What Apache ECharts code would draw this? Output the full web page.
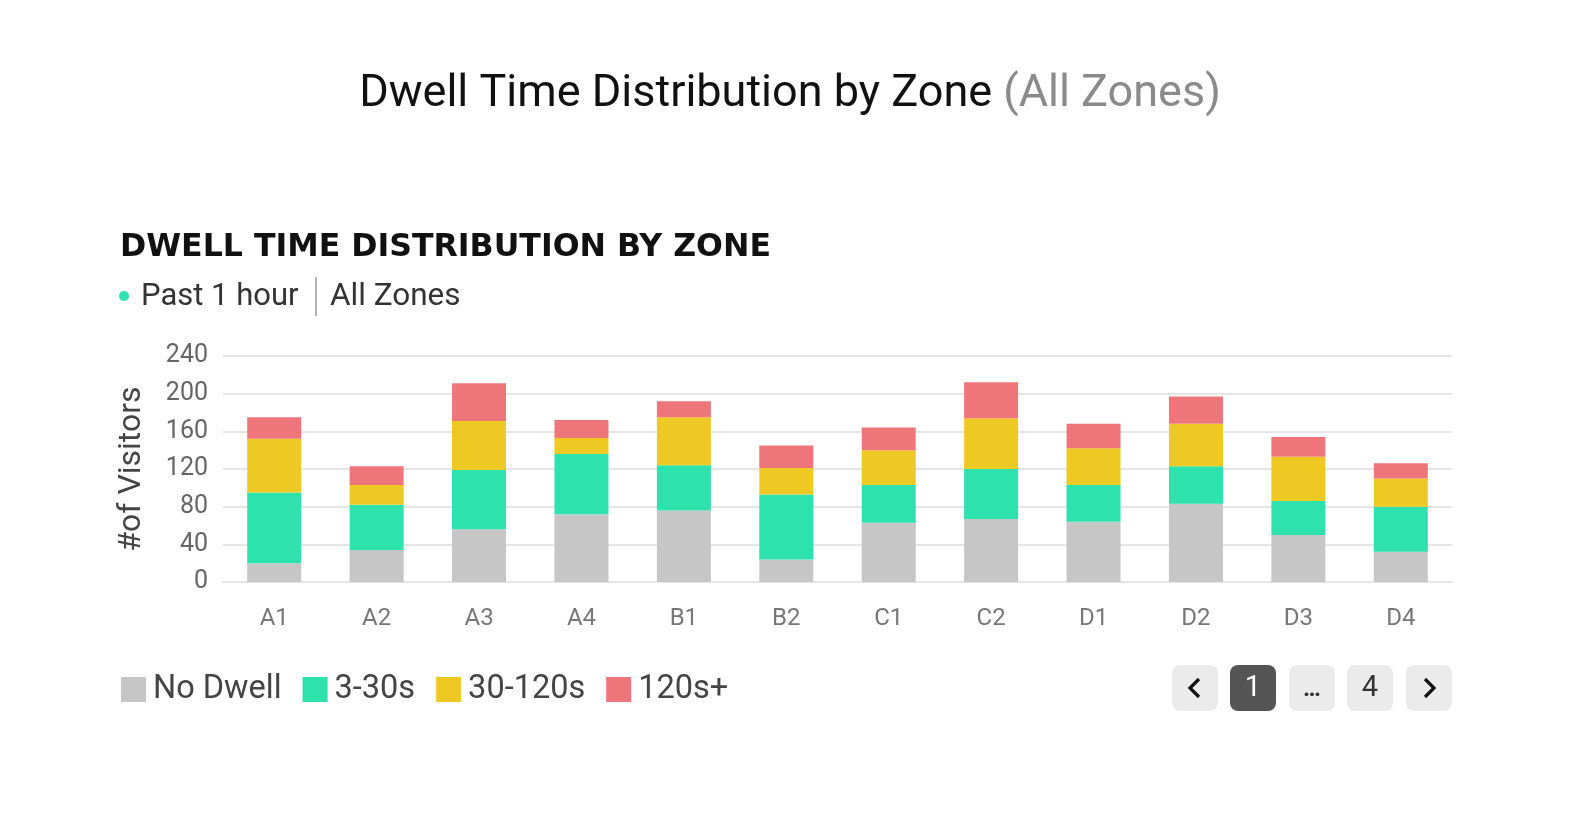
<!DOCTYPE html>
<html>
<head>
<meta charset="utf-8">
<script src="https://cdn.jsdelivr.net/npm/echarts@6/dist/echarts.min.js"></script>
<style>
  html, body { margin: 0; padding: 0; background: #fff; }
  #chart { width: 1580px; height: 826px; }
</style>
</head>
<body>
<div id="chart"></div>
<script>
// zones and dwell buckets
const zones = ["A1", "A2", "A3", "A4", "B1", "B2", "C1", "C2", "D1", "D2", "D3", "D4"];
const noDwell = [20, 34, 56, 72, 76, 24, 63, 67, 64, 83, 50, 32];
const dwell3to30 = [75, 48, 63, 64, 48, 69, 40, 53, 39, 40, 36, 48];
const dwell30to120 = [57, 21, 52, 17, 51, 28, 37, 54, 39, 45, 47, 30];
const dwell120plus = [23, 20, 40, 19, 17, 24, 24, 38, 26, 29, 21, 16];
const yTicks = [0, 40, 80, 120, 160, 200, 240];

const seriesNames = ["No Dwell", "3-30s", "30-120s", "120s+"];
const colors = ["#c6c6c6", "#2de2ad", "#efc923", "#ee767a"];
const pages = ["1", "…", "4"];

const FONT = "Roboto";

const chart = echarts.init(document.getElementById("chart"));

// pagination buttons (decoration only)
const btnW = 46, btnH = 46, btnY = 665;
const btnX = [1172, 1230, 1289, 1347, 1406];
const pager = [];
btnX.forEach((x, i) => {
  const active = i === 1;
  pager.push({
    type: "rect",
    shape: { x: x, y: btnY, width: btnW, height: btnH, r: 8 },
    style: { fill: active ? "#555555" : "#ebebeb" },
  });
  if (i > 0 && i < 4) {
    pager.push({
      type: "text",
      x: x + btnW / 2,
      y: btnY + btnH / 2 + (i === 2 ? 2 : 1),
      style: {
        text: pages[i - 1],
        fontFamily: FONT,
        fontWeight: i === 2 ? "bold" : "normal",
        fontSize: i === 2 ? 24 : 29,
        fill: active ? "#ffffff" : "#333333",
        align: "center",
        verticalAlign: "middle",
      },
    });
  }
});
// chevrons
const cy = btnY + btnH / 2;
pager.push({
  type: "polyline",
  shape: { points: [[1199, cy - 9], [1190, cy], [1199, cy + 9]] },
  style: { stroke: "#111", lineWidth: 3.2, fill: null },
});
pager.push({
  type: "polyline",
  shape: { points: [[1425, cy - 9], [1434, cy], [1425, cy + 9]] },
  style: { stroke: "#111", lineWidth: 3.2, fill: null },
});

const option = {
  backgroundColor: "#ffffff",
  animation: false,
  title: {
    text: "{a|Dwell Time Distribution by Zone }{b|(All Zones)}",
    left: "center",
    top: 67,
    textStyle: {
      fontWeight: "normal",
      rich: {
        a: { fontFamily: FONT, fontSize: 45, fontWeight: "normal", color: "#111111" },
        b: { fontFamily: FONT, fontSize: 45, fontWeight: "normal", color: "#8a8a8a" },
      },
    },
  },
  graphic: [
    {
      type: "text",
      x: 120,
      y: 248,
      style: {
        text: "DWELL TIME DISTRIBUTION BY ZONE",
        fontFamily: "DejaVu Sans",
        fontWeight: "bold",
        fontSize: 31.6,
        fill: "#111111",
        verticalAlign: "middle",
      },
    },
    {
      type: "circle",
      shape: { cx: 124, cy: 296, r: 5 },
      style: { fill: "#2de2ad" },
    },
    {
      type: "text",
      x: 141,
      y: 297,
      style: {
        text: "Past 1 hour",
        fontFamily: FONT,
        fontSize: 31,
        fill: "#333333",
        verticalAlign: "middle",
      },
    },
    {
      type: "line",
      shape: { x1: 316, y1: 277, x2: 316, y2: 316 },
      style: { stroke: "#999999", lineWidth: 1.5 },
    },
    {
      type: "text",
      x: 330,
      y: 297,
      style: {
        text: "All Zones",
        fontFamily: FONT,
        fontSize: 31.5,
        fill: "#333333",
        verticalAlign: "middle",
      },
    },
    ...pager,
  ],
  legend: {
    left: 116,
    top: 668,
    icon: "rect",
    itemWidth: 25,
    itemHeight: 25,
    itemGap: 21,
    textStyle: {
      fontFamily: FONT,
      fontSize: 32.5,
      color: "#444444",
      padding: [0, 0, 0, 2],
    },
    data: seriesNames,
  },
  grid: {
    left: 223,
    right: 128,
    top: 356,
    bottom: 244,
  },
  xAxis: {
    type: "category",
    data: zones,
    axisTick: { show: false },
    axisLine: { lineStyle: { color: "#e6e6e6", width: 2 } },
    axisLabel: {
      fontFamily: FONT,
      fontSize: 24,
      color: "#777777",
      margin: 25,
    },
  },
  yAxis: {
    type: "value",
    min: yTicks[0],
    max: yTicks[yTicks.length - 1],
    interval: yTicks[1] - yTicks[0],
    name: "#of Visitors",
    nameLocation: "middle",
    nameGap: 75,
    nameTextStyle: {
      fontFamily: FONT,
      fontSize: 32,
      color: "#444444",
    },
    axisLine: { show: false },
    axisTick: { show: false },
    axisLabel: {
      fontFamily: FONT,
      fontSize: 25,
      color: "#666666",
      margin: 15,
      padding: [9, 0, 0, 0],
    },
    splitLine: { lineStyle: { color: "#e6e6e6", width: 2 } },
  },
  series: [noDwell, dwell3to30, dwell30to120, dwell120plus].map((d, i) => ({
    name: seriesNames[i],
    type: "bar",
    stack: "dwell",
    barWidth: 54,
    itemStyle: { color: colors[i] },
    data: d,
  })),
};

chart.setOption(option);
window.onresize = function () {
  chart.resize();
};
</script>
</body>
</html>
